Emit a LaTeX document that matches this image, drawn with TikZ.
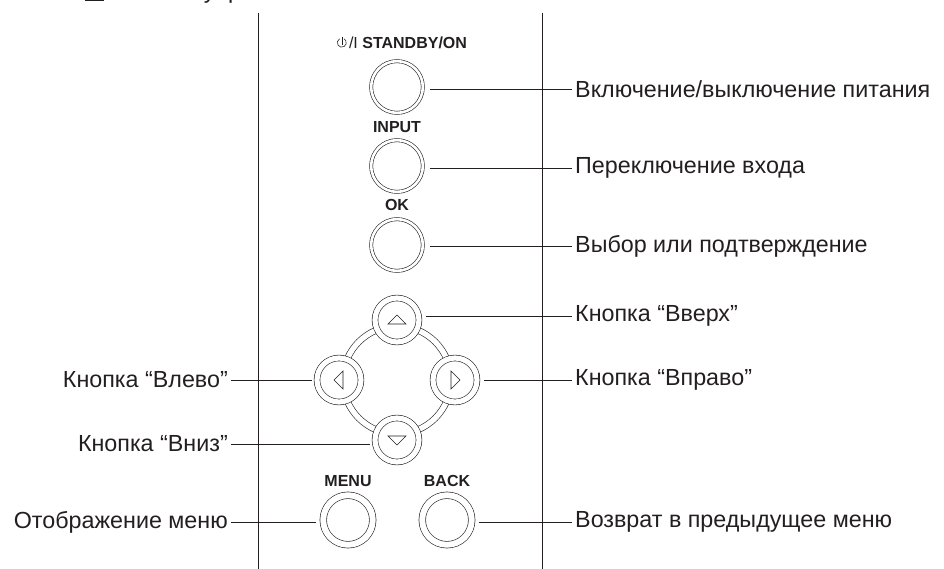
\documentclass[tikz,border=0pt]{standalone}
\usepackage{fontspec}
\setmainfont{Liberation Sans}
\usetikzlibrary{positioning}
\definecolor{ink}{HTML}{231F20}
\tikzset{
  panel/.style = {draw=ink, line width=0.9pt},
  key/.style = {circle, draw=ink, line width=0.6pt, double=white, double distance=2.6pt, fill=white, minimum size=51.7pt, inner sep=0pt},
  arrowkey/.style = {key, double distance=5.2pt, minimum size=44pt},
  smallkey/.style = {key, double distance=6pt, minimum size=49.5pt},
  keyname/.style = {font=\bfseries\fontsize{16}{16}\selectfont, text=ink, inner sep=0pt},
  caption/.style = {font=\fontsize{23.3}{25}\selectfont, text=ink, inner sep=3pt},
  lead/.style = {draw=ink, line width=0.8pt, shorten <=7pt}
}

\begin{document}
\begin{tikzpicture}[x=1pt, y=-1pt]
\clip (0,0) rectangle (944,569);

% heading (cut by the top edge)
\fill[ink] (85,-16) rectangle (104,0.8);
\node[caption, anchor=base west, inner sep=0pt] (title) at (122,-1) {Кнопки управления};

% edges of the panel
\draw[panel] (258,13) -- (258,569);
\draw[panel] (542,13) -- (542,569);

% main keys
\node[key] (power) at (397,87) {};
\node[key] (input) at (397,166) {};
\node[key] (ok) at (397,245) {};

\node[keyname, above=12pt of power, xshift=11pt] (powerlbl) {{\mdseries/I} STANDBY/ON};
\draw[ink, line width=0.6pt] ([shift={(-9.25,-3.9)}]powerlbl.west) arc[start angle=120, end angle=420, radius=4.5pt];
\draw[ink, line width=0.6pt] ([xshift=-7pt, yshift=-2pt]powerlbl.west) -- ++(0,-8);
\node[keyname, above=7pt of input] (inputlbl) {INPUT};
\node[keyname, above=8pt of ok] (oklbl) {OK};

% arrow keys on their ring
\node[circle, draw=ink, line width=0.6pt, double=white, double distance=5.4pt, minimum size=108pt] (ring) at (397,380) {};
\node[arrowkey] (bu) at (397,320) {};
\node[arrowkey] (bd) at (397,440) {};
\node[arrowkey] (bl) at (339,380) {};
\node[arrowkey] (br) at (455,380) {};
\foreach \b/\a in {bu/0, bl/90, bd/180, br/270}
  \draw[ink, line width=0.6pt, shift={(\b.center)}, rotate=\a] (-9,4) -- (9,4) -- (0,-5) -- cycle;

% menu and back
\node[smallkey] (menu) at (348,520) {};
\node[smallkey] (back) at (447,520) {};
\node[keyname, above=8pt of menu] (menulbl) {MENU};
\node[keyname, above=8pt of back] (backlbl) {BACK};

% captions
\node[caption, anchor=west] (lblpower) at (572,89) {Включение/выключение питания};
\node[caption, anchor=west] (lblinput) at (572,168) {Переключение входа};
\node[caption, anchor=west] (lblok) at (572,246) {Выбор или подтверждение};
\node[caption, anchor=west] (lblup) at (572,316) {Кнопка “Вверх”};
\node[caption, anchor=west] (lblright) at (572,380) {Кнопка “Вправо”};
\node[caption, anchor=west] (lblback) at (572,522) {Возврат в предыдущее меню};
\node[caption, anchor=east] (lblleft) at (231,380) {Кнопка “Влево”};
\node[caption, anchor=east] (lbldown) at (231,444) {Кнопка “Вниз”};
\node[caption, anchor=east] (lblmenu) at (231,522) {Отображение меню};

% leader lines
\draw[lead] (lblpower.west -| power.east) -- (lblpower.west);
\draw[lead] (lblinput.west -| input.east) -- (lblinput.west);
\draw[lead] (lblok.west -| ok.east) -- (lblok.west);
\draw[lead] (lblup.west -| bu.east) -- (lblup.west);
\draw[lead] (lblright.west -| br.east) -- (lblright.west);
\draw[lead] (lblback.west -| back.east) -- (lblback.west);
\draw[lead, shorten <=5pt] (lblleft.east -| bl.west) -- (lblleft.east);
\draw[lead, shorten <=5pt] (lbldown.east -| bd.west) -- (lbldown.east);
\draw[lead] (lblmenu.east -| menu.west) -- (lblmenu.east);

\end{tikzpicture}
\end{document}
